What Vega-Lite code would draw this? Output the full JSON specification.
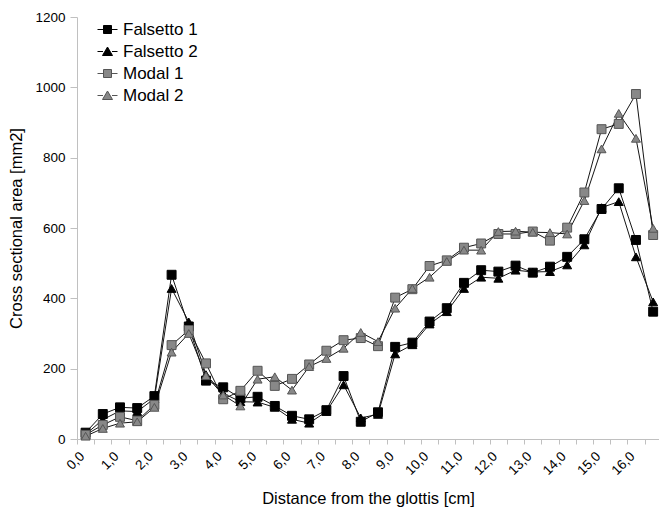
{
  "$schema": "https://vega.github.io/schema/vega-lite/v6.json",
  "width": 582,
  "height": 422,
  "autosize": {"type": "none"},
  "padding": {"left": 77, "top": 17, "right": 0, "bottom": 71},
  "config": {"view": {"stroke": null}, "font": "Liberation Sans"},
  "data": {"values": [
    {"d": 0.25, "Falsetto 1": 18, "Falsetto 2": 13, "Modal 1": 12, "Modal 2": 8},
    {"d": 0.75, "Falsetto 1": 71, "Falsetto 2": 55, "Modal 1": 40, "Modal 2": 30},
    {"d": 1.25, "Falsetto 1": 90, "Falsetto 2": 80, "Modal 1": 63, "Modal 2": 45},
    {"d": 1.75, "Falsetto 1": 88, "Falsetto 2": 78, "Modal 1": 52, "Modal 2": 49},
    {"d": 2.25, "Falsetto 1": 122, "Falsetto 2": 115, "Modal 1": 97, "Modal 2": 90},
    {"d": 2.75, "Falsetto 1": 467, "Falsetto 2": 428, "Modal 1": 267, "Modal 2": 247},
    {"d": 3.25, "Falsetto 1": 320, "Falsetto 2": 333, "Modal 1": 310, "Modal 2": 300},
    {"d": 3.75, "Falsetto 1": 166, "Falsetto 2": 183, "Modal 1": 215, "Modal 2": 180},
    {"d": 4.25, "Falsetto 1": 147, "Falsetto 2": 130, "Modal 1": 113, "Modal 2": 125},
    {"d": 4.75, "Falsetto 1": 116, "Falsetto 2": 106, "Modal 1": 137, "Modal 2": 94},
    {"d": 5.25, "Falsetto 1": 120, "Falsetto 2": 105, "Modal 1": 194, "Modal 2": 170},
    {"d": 5.75, "Falsetto 1": 94, "Falsetto 2": 90, "Modal 1": 151, "Modal 2": 177},
    {"d": 6.25, "Falsetto 1": 66, "Falsetto 2": 56, "Modal 1": 171, "Modal 2": 139},
    {"d": 6.75, "Falsetto 1": 56, "Falsetto 2": 45, "Modal 1": 212, "Modal 2": 206},
    {"d": 7.25, "Falsetto 1": 82, "Falsetto 2": 78, "Modal 1": 251, "Modal 2": 229},
    {"d": 7.75, "Falsetto 1": 179, "Falsetto 2": 154, "Modal 1": 281, "Modal 2": 258},
    {"d": 8.25, "Falsetto 1": 49, "Falsetto 2": 60, "Modal 1": 287, "Modal 2": 303},
    {"d": 8.75, "Falsetto 1": 76, "Falsetto 2": 70, "Modal 1": 264, "Modal 2": 277},
    {"d": 9.25, "Falsetto 1": 262, "Falsetto 2": 242, "Modal 1": 402, "Modal 2": 372},
    {"d": 9.75, "Falsetto 1": 274, "Falsetto 2": 268, "Modal 1": 426, "Modal 2": 428},
    {"d": 10.25, "Falsetto 1": 334, "Falsetto 2": 327, "Modal 1": 492, "Modal 2": 460},
    {"d": 10.75, "Falsetto 1": 372, "Falsetto 2": 362, "Modal 1": 508, "Modal 2": 505},
    {"d": 11.25, "Falsetto 1": 444, "Falsetto 2": 428, "Modal 1": 544, "Modal 2": 537},
    {"d": 11.75, "Falsetto 1": 480, "Falsetto 2": 460, "Modal 1": 556, "Modal 2": 537},
    {"d": 12.25, "Falsetto 1": 476, "Falsetto 2": 457, "Modal 1": 583, "Modal 2": 590},
    {"d": 12.75, "Falsetto 1": 493, "Falsetto 2": 480, "Modal 1": 583, "Modal 2": 591},
    {"d": 13.25, "Falsetto 1": 473, "Falsetto 2": 475, "Modal 1": 590, "Modal 2": 588},
    {"d": 13.75, "Falsetto 1": 490, "Falsetto 2": 476, "Modal 1": 564, "Modal 2": 587},
    {"d": 14.25, "Falsetto 1": 518, "Falsetto 2": 495, "Modal 1": 601, "Modal 2": 583},
    {"d": 14.75, "Falsetto 1": 568, "Falsetto 2": 552, "Modal 1": 701, "Modal 2": 678},
    {"d": 15.25, "Falsetto 1": 654, "Falsetto 2": 658, "Modal 1": 881, "Modal 2": 825},
    {"d": 15.75, "Falsetto 1": 713, "Falsetto 2": 675, "Modal 1": 896, "Modal 2": 926},
    {"d": 16.25, "Falsetto 1": 566, "Falsetto 2": 518, "Modal 1": 981, "Modal 2": 855},
    {"d": 16.75, "Falsetto 1": 362, "Falsetto 2": 390, "Modal 1": 580, "Modal 2": 599}
  ]},
  "transform": [
    {"fold": ["Falsetto 1", "Falsetto 2", "Modal 1", "Modal 2"], "as": ["series", "area"]}
  ],
  "encoding": {
    "x": {
      "field": "d", "type": "quantitative",
      "scale": {"domain": [0, 16.92], "nice": false, "zero": false},
      "axis": {
        "title": "Distance from the glottis [cm]",
        "titleFont": "Liberation Sans", "titleFontSize": 16.5, "titleFontWeight": "normal", "titleColor": "#000",
        "titlePadding": 13,
        "values": [0,0.5,1,1.5,2,2.5,3,3.5,4,4.5,5,5.5,6,6.5,7,7.5,8,8.5,9,9.5,10,10.5,11,11.5,12,12.5,13,13.5,14,14.5,15,15.5,16,16.5],
        "labelExpr": "datum.value % 1 === 0 ? replace(format(datum.value, '.1f'), '.', ',') : ''",
        "labelAngle": -45, "labelAlign": "right", "labelBaseline": "top",
        "labelFontSize": 13.5, "labelColor": "#000", "labelOverlap": false, "labelBound": false, "labelFlush": false,
        "labelPadding": 5,
        "grid": false, "domainColor": "#c0c0c0", "tickColor": "#c0c0c0", "tickSize": 5
      }
    },
    "y": {
      "field": "area", "type": "quantitative",
      "scale": {"domain": [0, 1200], "nice": false},
      "axis": {
        "title": "Cross sectional area [mm2]",
        "titleFont": "Liberation Sans", "titleFontSize": 16.5, "titleFontWeight": "normal", "titleColor": "#000",
        "titlePadding": 10,
        "values": [0, 200, 400, 600, 800, 1000, 1200],
        "format": "d",
        "labelFontSize": 13.5, "labelColor": "#000", "labelPadding": 5,
        "grid": false, "domainColor": "#c0c0c0", "tickColor": "#c0c0c0", "tickSize": 7
      }
    }
  },
  "layer": [
    {
      "mark": {"type": "line", "strokeWidth": 1, "color": "#151515"},
      "encoding": {
        "detail": {"field": "series", "type": "nominal"}
      }
    },
    {
      "mark": {"type": "point", "filled": true, "size": 80, "strokeWidth": 1, "opacity": 1},
      "encoding": {
        "shape": {
          "field": "series", "type": "nominal",
          "scale": {"domain": ["Falsetto 1", "Falsetto 2", "Modal 1", "Modal 2"], "range": ["square", "triangle-up", "square", "triangle-up"]},
          "legend": null
        },
        "fill": {
          "field": "series", "type": "nominal",
          "scale": {"domain": ["Falsetto 1", "Falsetto 2", "Modal 1", "Modal 2"], "range": ["#000000", "#000000", "#888888", "#888888"]},
          "legend": null
        },
        "stroke": {
          "field": "series", "type": "nominal",
          "scale": {"domain": ["Falsetto 1", "Falsetto 2", "Modal 1", "Modal 2"], "range": ["#000000", "#000000", "#555555", "#555555"]},
          "legend": null
        }
      }
    },
    {
      "transform": [{"filter": "false"}],
      "mark": {"type": "point", "filled": true, "size": 80, "strokeWidth": 1, "opacity": 1},
      "encoding": {
        "shape": {
          "field": "series", "type": "nominal",
          "scale": {"domain": ["Falsetto 1", "Falsetto 2", "Modal 1", "Modal 2"], "range": [
            "M-1,0H-0.4M0.4,0H1M-0.4,-0.4H0.4V0.4H-0.4Z",
            "M-1,0H-0.45M0.45,0H1M0,-0.45L0.5,0.4H-0.5Z",
            "M-1,0H-0.4M0.4,0H1M-0.4,-0.4H0.4V0.4H-0.4Z",
            "M-1,0H-0.45M0.45,0H1M0,-0.45L0.5,0.4H-0.5Z"
          ]},
          "legend": {
            "title": null, "orient": "none", "legendX": 20, "legendY": 2, "padding": 0,
            "symbolSize": 400, "symbolStrokeWidth": 1, "symbolOpacity": 1, "rowPadding": 3, "labelOffset": 5,
            "labelFontSize": 17, "labelColor": "#000", "labelFont": "Liberation Sans"
          }
        },
        "fill": {
          "field": "series", "type": "nominal",
          "scale": {"domain": ["Falsetto 1", "Falsetto 2", "Modal 1", "Modal 2"], "range": ["#000000", "#000000", "#888888", "#888888"]}
        },
        "stroke": {
          "field": "series", "type": "nominal",
          "scale": {"domain": ["Falsetto 1", "Falsetto 2", "Modal 1", "Modal 2"], "range": ["#000000", "#000000", "#555555", "#555555"]}
        }
      }
    }
  ],
  "resolve": {"scale": {"shape": "independent", "fill": "independent", "stroke": "independent"}}
}
